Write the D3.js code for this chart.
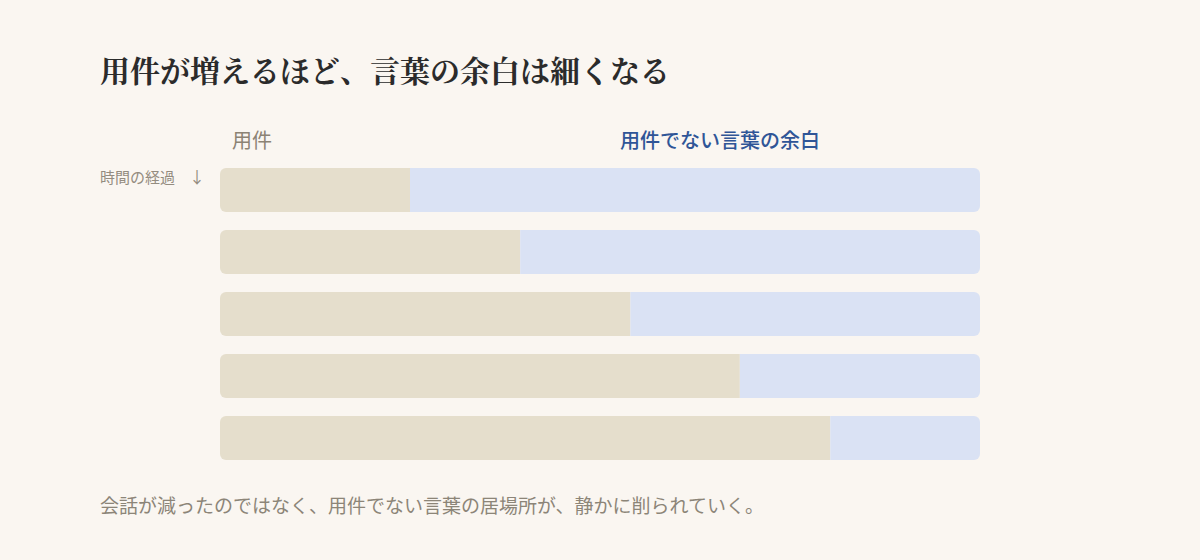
<!DOCTYPE html>
<html><head><meta charset="utf-8">
<script src="https://cdn.jsdelivr.net/npm/d3@7"></script>
<style>
html,body{margin:0;padding:0;background:#faf6f1;}
svg{display:block;}
</style></head>
<body>
<svg id="chart" width="1200" height="560"></svg>
<script>
const title = "用件が増えるほど、言葉の余白は細くなる";
const footnote = "会話が減ったのではなく、用件でない言葉の居場所が、静かに削られていく。";
const seriesNames = ["用件", "用件でない言葉の余白"];
const timeLabel = "時間の経過";
const steps = ["t1", "t2", "t3", "t4", "t5"];
const taskShare = [25.0, 39.5, 54.0, 68.4, 80.3];
const spaceShare = taskShare.map(v => 100 - v);

const svg = d3.select("#chart");
const W = 1200, H = 560;
svg.append("rect").attr("width", W).attr("height", H).attr("fill", "#faf6f1");

const x = d3.scaleLinear().domain([0, 100]).range([220, 980]);
const y = d3.scaleBand().domain(steps).range([168, 460]).paddingInner(18/62).paddingOuter(0);

const sans = "'Noto Sans CJK JP', 'Noto Sans', sans-serif";
const serif = "'Noto Serif CJK JP', 'Noto Serif JP', serif, 'Noto Sans CJK JP'";

svg.append("text").attr("x", 100).attr("y", 82)
  .attr("font-family", serif).attr("font-weight", 700).attr("font-size", 30)
  .attr("fill", "#2b2b2b").text(title);

svg.append("text").attr("x", 232).attr("y", 148)
  .attr("font-family", sans).attr("font-size", 20).attr("fill", "#8c8374")
  .text(seriesNames[0]);
svg.append("text").attr("x", 620).attr("y", 148)
  .attr("font-family", sans).attr("font-size", 20).attr("font-weight", 500).attr("fill", "#2f5597")
  .text(seriesNames[1]);

svg.append("text").attr("x", 100).attr("y", 183)
  .attr("font-family", sans).attr("font-size", 15).attr("fill", "#948c80")
  .text(timeLabel);
svg.append("text").attr("x", 197).attr("y", 183).attr("text-anchor", "middle")
  .attr("font-family", sans).attr("font-size", 16).attr("fill", "#948c80")
  .text("↓");

const clip = svg.append("defs");
steps.forEach((s, i) => {
  clip.append("clipPath").attr("id", "c" + i)
    .append("rect").attr("x", x(0)).attr("y", y(s))
    .attr("width", x(100) - x(0)).attr("height", y.bandwidth()).attr("rx", 6).attr("ry", 6);
});

const rows = svg.selectAll("g.row").data(steps).join("g")
  .attr("class", "row").attr("clip-path", (d, i) => `url(#c${i})`);
rows.append("rect")
  .attr("x", x(0)).attr("y", d => y(d))
  .attr("width", (d, i) => x(taskShare[i]) - x(0)).attr("height", y.bandwidth())
  .attr("fill", "#e5decc");
rows.append("rect")
  .attr("x", (d, i) => x(taskShare[i])).attr("y", d => y(d))
  .attr("width", (d, i) => x(taskShare[i] + spaceShare[i]) - x(taskShare[i])).attr("height", y.bandwidth())
  .attr("fill", "#dae2f4");

svg.append("text").attr("x", 100).attr("y", 513)
  .attr("font-family", sans).attr("font-size", 19).attr("fill", "#8c8578")
  .text(footnote);
</script>
</body></html>
